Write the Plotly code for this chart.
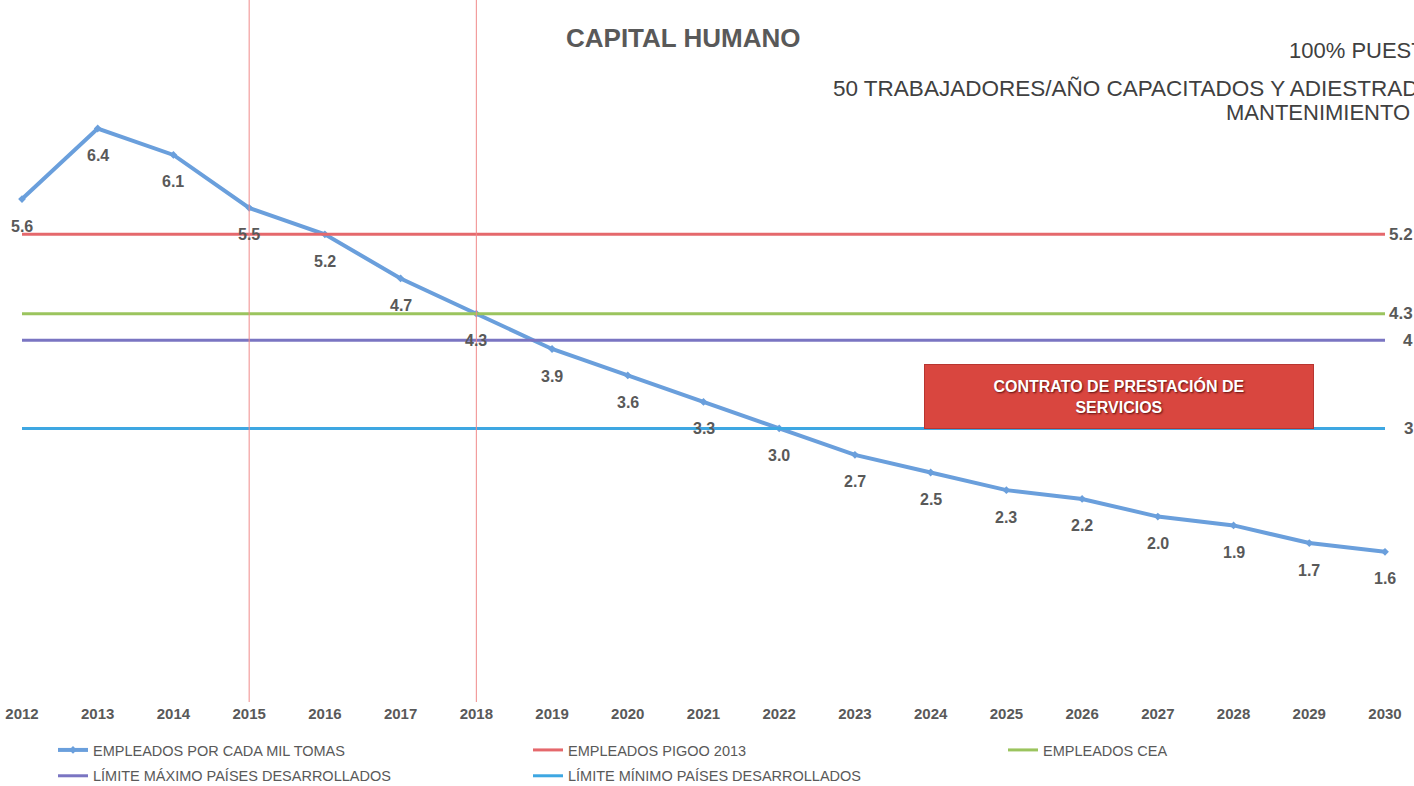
import plotly.graph_objects as go

years = list(range(2012, 2031))
empleados = [5.6, 6.4, 6.1, 5.5, 5.2, 4.7, 4.3, 3.9, 3.6, 3.3, 3.0, 2.7, 2.5, 2.3, 2.2, 2.0, 1.9, 1.7, 1.6]
pigoo = 5.2
cea = 4.3
lim_max = 4
lim_min = 3
ref_years = [2015, 2018]

series_names = ["EMPLEADOS POR CADA MIL TOMAS", "EMPLEADOS PIGOO 2013", "EMPLEADOS CEA",
                "LÍMITE MÁXIMO PAÍSES DESARROLLADOS", "LÍMITE MÍNIMO PAÍSES DESARROLLADOS"]
colors = ["#6a9fdc", "#e5686c", "#9bc45e", "#7a75c2", "#3ea7e2"]
GRAY = "#595959"
FONT = "Liberation Sans, Arial, sans-serif"

# plot area in pixels
PL, PR, PT, PB = 22, 1385, 5, 693
PW, PH = PR - PL, PB - PT


def px_x(p):
    return (p - PL) / PW


def px_y(p):
    return (PB - p) / PH


fig = go.Figure()
fig.add_trace(go.Scatter(x=years, y=empleados, mode="lines+markers", name=series_names[0],
                         line=dict(color=colors[0], width=4),
                         marker=dict(symbol="diamond", size=6, color=colors[0]),
                         legend="legend", legendgroup="a"))
legend_of = ["legend2", "legend3", "legend", "legend2"]
for i, (name, val, col) in enumerate(zip(series_names[1:], [pigoo, cea, lim_max, lim_min], colors[1:])):
    fig.add_trace(go.Scatter(x=[years[0], years[-1]], y=[val, val], mode="lines", name=name,
                             line=dict(color=col, width=3), legend=legend_of[i],
                             legendgroup=f"g{i}"))

# data labels for main series
for x, y in zip(years, empleados):
    fig.add_annotation(x=x, y=y, text=f"{y:.1f}", showarrow=False, yshift=-27,
                       font=dict(size=16, color=GRAY, family=FONT, weight="bold"))
# right-side labels for reference lines (right aligned)
for val in [pigoo, cea, lim_max, lim_min]:
    fig.add_annotation(xref="paper", yref="y", x=px_x(1415), y=val, text=f"{val:g}", showarrow=False,
                       xanchor="right", yanchor="middle",
                       font=dict(size=17, color=GRAY, family=FONT, weight="bold"))

# vertical red reference lines
for ry in ref_years:
    fig.add_shape(type="line", xref="x", yref="paper", x0=ry, x1=ry, y0=px_y(702), y1=px_y(0),
                  line=dict(color="#f08a8a", width=1))

# red box
fig.add_annotation(x=2026.49, y=3.357, text="CONTRATO DE PRESTACIÓN DE<br>SERVICIOS", showarrow=False,
                   width=386, height=61, bgcolor="#d9463f", bordercolor="#b83530", borderwidth=1,
                   font=dict(size=16, color="white", family=FONT, weight="bold",
                             shadow="1px 1px 2px #5a1010"))

# title and header texts
fig.add_annotation(xref="paper", yref="paper", x=px_x(683), y=px_y(38), xanchor="center", yanchor="middle",
                   text="CAPITAL HUMANO", showarrow=False,
                   font=dict(size=26, color=GRAY, family=FONT, weight="bold"))
fig.add_annotation(xref="paper", yref="paper", x=px_x(1287), xanchor="left", y=px_y(50), yanchor="middle",
                   text="100% PUESTOS", showarrow=False,
                   font=dict(size=22, color="#404040", family=FONT))
fig.add_annotation(xref="paper", yref="paper", x=px_x(831), xanchor="left", y=px_y(88), yanchor="middle",
                   text="50 TRABAJADORES/AÑO CAPACITADOS Y ADIESTRADOS", showarrow=False,
                   font=dict(size=22.5, color="#404040", family=FONT))
fig.add_annotation(xref="paper", yref="paper", x=px_x(1224), xanchor="left", y=px_y(113), yanchor="middle",
                   text="MANTENIMIENTO", showarrow=False,
                   font=dict(size=22, color="#404040", family=FONT))

leg_common = dict(orientation="v", yanchor="top", xanchor="left", y=px_y(734),
                  tracegroupgap=4, bgcolor="rgba(0,0,0,0)",
                  font=dict(size=14.5, color=GRAY, family=FONT))

fig.update_layout(
    width=1414, height=786,
    margin=dict(l=PL, r=1414 - PR, t=PT, b=786 - PB, autoexpand=False),
    paper_bgcolor="white", plot_bgcolor="white",
    font=dict(family=FONT, color=GRAY),
    showlegend=True,
    legend=dict(x=px_x(53), **leg_common),
    legend2=dict(x=px_x(528), **leg_common),
    legend3=dict(x=px_x(1003), **leg_common),
    xaxis=dict(range=[2012, 2030], tickmode="array", tickvals=years, ticktext=[str(y) for y in years],
               showgrid=False, zeroline=False, showline=False, ticks="outside", ticklen=7,
               tickcolor="rgba(0,0,0,0)", automargin=False,
               tickfont=dict(size=15, color=GRAY, family=FONT, weight="bold")),
    yaxis=dict(range=[0, 7.8], visible=False),
)
for tr in fig.data:
    tr.cliponaxis = False

fig.write_html("out.html", config={"displayModeBar": False},
               post_script="document.body.style.margin='0';document.body.style.overflow='hidden';")
